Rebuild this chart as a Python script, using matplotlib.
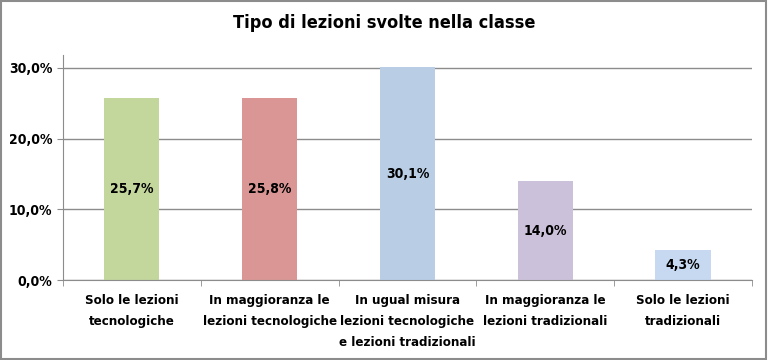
import matplotlib.pyplot as plt
import matplotlib.patches as mpatches
import numpy as np

plt.rcParams['font.family'] = ['DejaVu Sans']
plt.rcParams['font.stretch'] = 'condensed'

categories = ["Solo le lezioni\ntecnologiche",
              "In maggioranza le\nlezioni tecnologiche",
              "In ugual misura\nlezioni tecnologiche\ne lezioni tradizionali",
              "In maggioranza le\nlezioni tradizionali",
              "Solo le lezioni\ntradizionali"]
values = [25.7, 25.8, 30.1, 14.0, 4.3]
colors = ['#c3d69b', '#d99694', '#b9cde5', '#ccc1da', '#c6d9f1']
yticks = [0, 10, 20, 30]

fig = plt.figure(figsize=(7.68, 3.6), dpi=100)
ax = fig.add_axes([0.082, 0.222, 0.897, 0.625])

x = np.arange(len(values))
ax.bar(x, values, width=0.4, color=colors, zorder=2)
for xi, v in zip(x, values):
    ax.text(xi, v / 2, f"{v:.1f}%".replace('.', ','), ha='center', va='center',
            fontsize=10, fontweight='bold', zorder=3)

ax.set_xlim(-0.5, len(values) - 0.5)
ax.set_ylim(0, 31.8)
ax.set_yticks(yticks)
ax.set_yticklabels([f"{t:.1f}%".replace('.', ',') for t in yticks], fontsize=10, fontweight='bold')
ax.yaxis.grid(True, color='#8c8c8c', linewidth=1, zorder=0)

ax.set_xticks(x)
ax.set_xticklabels(categories, fontsize=9.5, fontweight='bold', linespacing=1.8)
ax.set_xticks(np.arange(-0.5, len(values)), minor=True)
ax.tick_params(axis='x', which='major', length=0, pad=10)
ax.tick_params(axis='x', which='minor', length=4, color='#8c8c8c', direction='out')
ax.tick_params(axis='y', length=4, color='#8c8c8c', direction='out')

for s in ['top', 'right']:
    ax.spines[s].set_visible(False)
ax.spines['left'].set_color('#8c8c8c')
ax.spines['bottom'].set_color('#8c8c8c')

fig.text(0.5, 0.935, "Tipo di lezioni svolte nella classe", ha='center', va='center',
         fontsize=13, fontweight='bold')

fig.patches.append(mpatches.Rectangle((0.001, 0.002), 0.997, 0.995, transform=fig.transFigure,
                                      fill=False, edgecolor='#8c8c8c', linewidth=1.5))

fig.savefig('out.png', dpi=100)
